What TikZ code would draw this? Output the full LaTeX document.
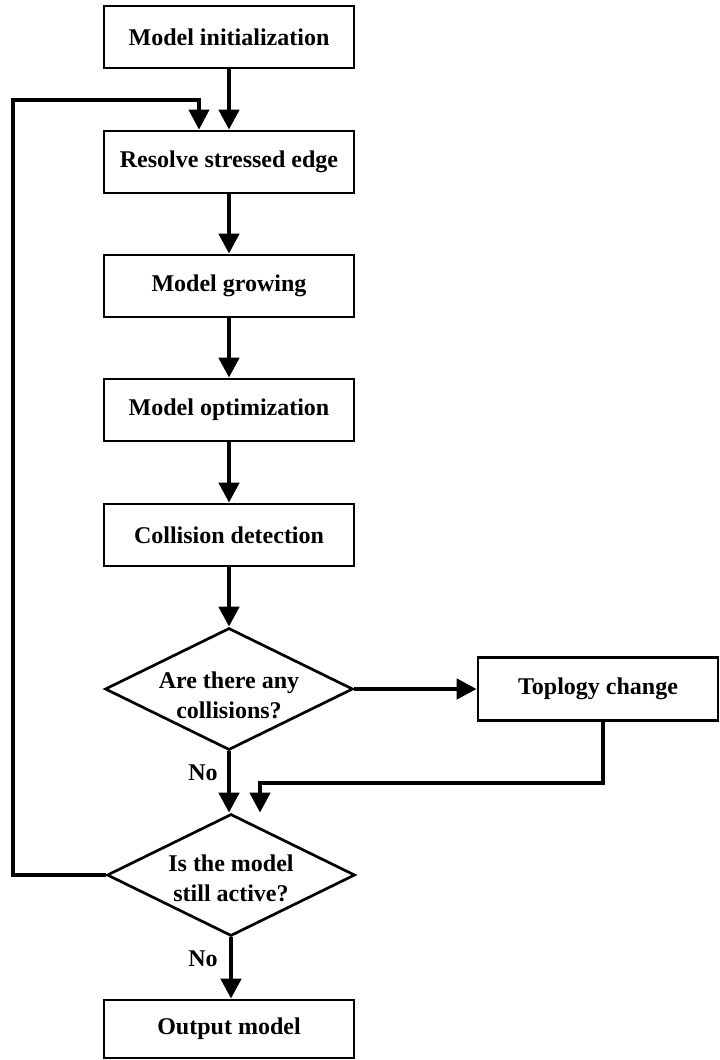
\documentclass[tikz,border=0pt]{standalone}
\usepackage{fontspec}
\setmainfont{Liberation Serif}
\usetikzlibrary{shapes.geometric,arrows.meta,calc}
\begin{document}
\begin{tikzpicture}[x=1pt,y=-1pt,
  every node/.style={font=\fontsize{24}{30}\selectfont\bfseries},
  procbox/.style={draw,line width=2.7pt,minimum width=250pt,minimum height=62pt,inner sep=0pt},
  decbox/.style={draw,diamond,line width=2.7pt,minimum width=248pt,minimum height=122pt,inner sep=0pt},
  dtext/.style={align=center,inner sep=0pt},
  arr/.style={line width=4.5pt,-{Triangle[length=20pt,width=20pt]}},
  plain/.style={line width=4pt}
]
\useasboundingbox (0,0) rectangle (720,1060);
\node[procbox] (init) at (229,37) {Model initialization};
\node[procbox] (resolve) at (229,162) {Resolve stressed edge};
\node[procbox] (grow) at (229,286) {Model growing};
\node[procbox] (opt) at (229,410) {Model optimization};
\node[procbox] (coll) at (229,535) {Collision detection};
\node[decbox] (d1) at (229,689) {};
\node[dtext] (d1t) at (229,695) {Are there any\\collisions?};
\node[procbox,minimum width=240pt,minimum height=63pt] (topo) at (598,689) {Toplogy change};
\node[decbox] (d2) at (231,875) {};
\node[dtext] (d2t) at (231,878) {Is the model\\still active?};
\node[procbox,minimum height=58pt] (out) at (229,1029) {Output model};
\node (no1) at (203,773) {No};
\node (no2) at (203,959) {No};

\draw[arr] (init) -- (resolve);
\draw[arr] (resolve) -- (grow);
\draw[arr] (grow) -- (opt);
\draw[arr] (opt) -- (coll);
\draw[arr] (coll) -- (d1.north);
\draw[arr] (d1.south) -- (d1.south |- d2.north);
\draw[arr] (d1.east) -- (topo.west);
\coordinate (mid) at (260,783);
\draw[arr] ([xshift=5pt]topo.south) |- (mid) -- (mid |- d2.north);
\draw[arr] (d2.south) -- (d2.south |- out.north);
\coordinate (lp) at (13,100);
\draw[line width=4pt,-{Triangle[length=20pt,width=20pt]}] (d2.west) -| (lp) -| ([xshift=-30pt]resolve.north);
\end{tikzpicture}
\end{document}
